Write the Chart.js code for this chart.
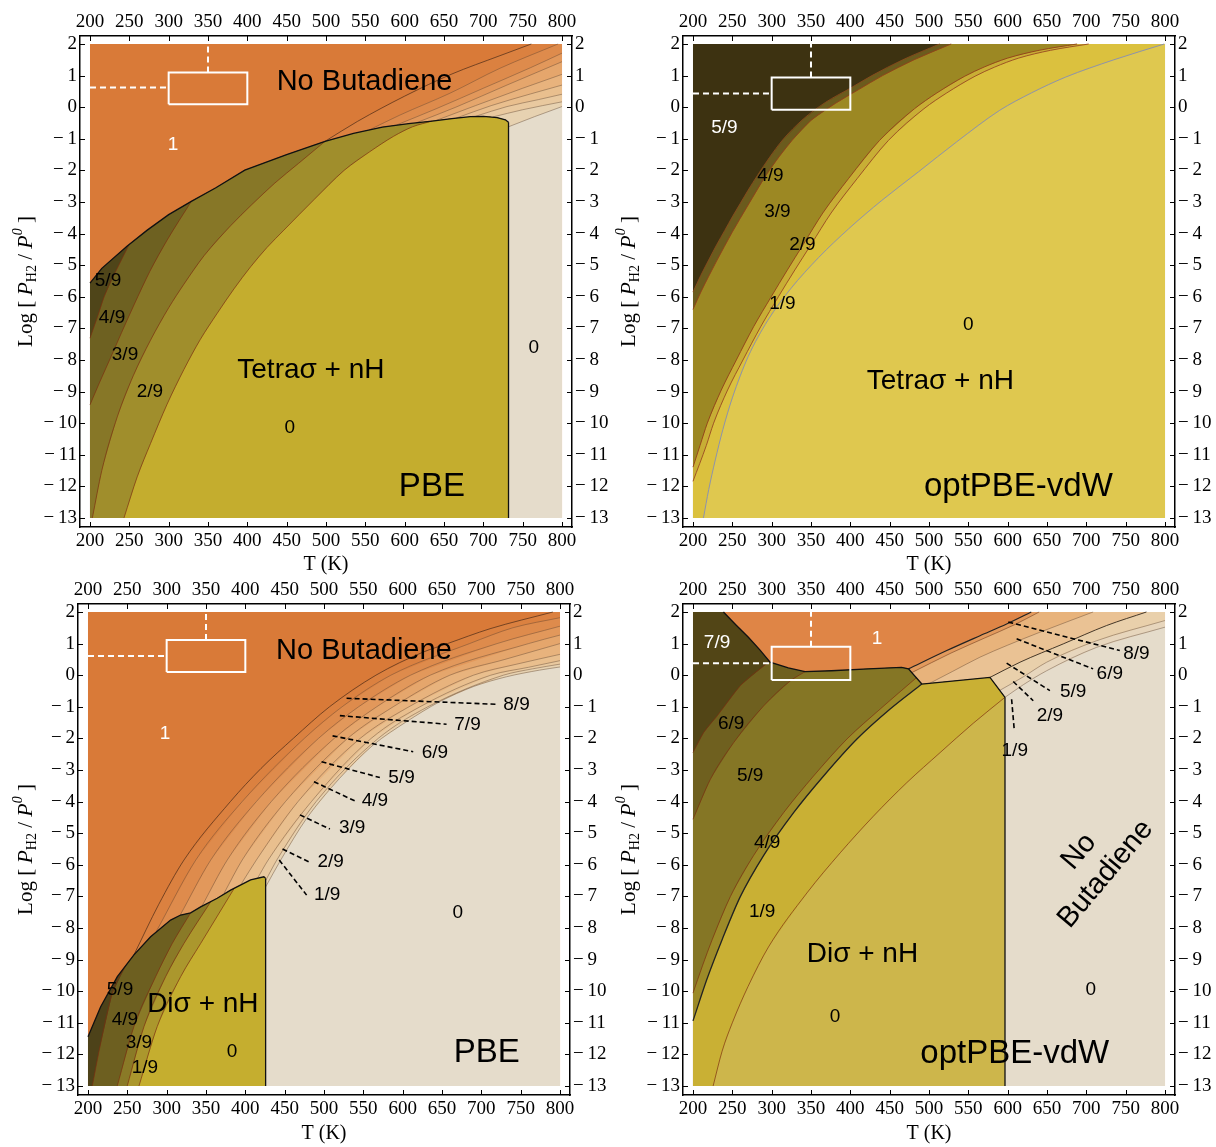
<!DOCTYPE html>
<html>
<head>
<meta charset="utf-8">
<script src="https://cdn.jsdelivr.net/npm/chart.js@4.4.1/dist/chart.umd.min.js"></script>
<style>
  body { margin: 0; background: #fff; width: 1216px; height: 1147px; position: relative; overflow: hidden; }
  canvas { position: absolute; }
</style>
</head>
<body>
<canvas id="c1" width="608" height="575" style="left:0;top:0"></canvas>
<canvas id="c2" width="608" height="575" style="left:608px;top:0"></canvas>
<canvas id="c3" width="608" height="572" style="left:0;top:575px"></canvas>
<canvas id="c4" width="608" height="572" style="left:608px;top:575px"></canvas>
<script>
// plotted domain: T (K) and log10(P_H2/P0)
const tMin = 200, tMax = 800, pMin = -13, pMax = 2;
const tStep = 50, pStep = 1;
// frame range (the white margin inside the frame)
const tLo = 187.3, tHi = 812.7, pLo = -13.285, pHi = 2.253;

// ---------- PBE, Tetra-sigma (top left) ----------
const p1Bound = [[200,-5.57],[215,-5.1],[247,-4.4],[272.8,-3.89],[300,-3.4],[328.8,-2.98],[360,-2.55],[396.8,-1.99],[450,-1.5],[498.8,-1.08],[535,-0.83],[571.7,-0.63],[605,-0.52],[634.9,-0.44],[660,-0.36],[683.5,-0.3],[700,-0.29],[717.5,-0.33],[728,-0.4],[732,-0.48]];
const p1Edge = 732;
const p1Olive = [
  [[200,-7.31],[210,-6.6],[218,-6.0],[232.6,-5.2],[250,-4.34]],
  [[200,-9.42],[212,-8.72],[226.3,-7.92],[240,-7.14],[255.9,-6.26],[276,-5.2],[298.2,-4.2],[328.8,-2.98]],
  [[203,-13],[215,-11.5],[234.7,-9.8],[255,-8.5],[277,-7.37],[300,-6.35],[319.4,-5.6],[345,-4.7],[378.8,-3.75],[405,-3.1],[435,-2.4],[465,-1.78],[498.8,-1.08]],
  [[243.2,-13],[260,-11.7],[277,-10.64],[298,-9.4],[319.4,-8.3],[340,-7.36],[361.8,-6.52],[383,-5.75],[404.2,-5.05],[425,-4.44],[446.5,-3.89],[485,-2.92],[523,-2.0],[555,-1.42],[586,-0.92],[610,-0.62],[634.9,-0.44]]
];
const p1Cont = [
  [[498.8,-1.08],[540,-0.45],[600,0.35],[660,1.05],[720,1.62],[761,2]],
  [[555,-0.72],[593.9,-0.25],[657.4,0.44],[721,1.23],[795,2]],
  [[590,-0.56],[640,-0.05],[700,0.6],[760,1.25],[800,1.71]],
  [[615,-0.49],[665,0.0],[730,0.7],[800,1.44]],
  [[640,-0.42],[690,0.05],[750,0.6],[800,1.04]],
  [[665,-0.35],[710,0.05],[760,0.42],[800,0.70]],
  [[690,-0.29],[730,0.02],[770,0.24],[800,0.41]],
  [[712,-0.31],[750,-0.08],[800,0.17]],
  [[732,-0.62],[765,-0.3],[800,0.02]]
];
const p1Box = [0.09, 1.1], p1Dash = 0.62;
const p1Text = [
  ['No Butadiene', 549, 0.8, 29], ['1', 305.5, -1.2, 19, '#fff'],
  ['5/9', 222.9, -5.5, 19], ['4/9', 228, -6.67, 19], ['3/9', 244.5, -7.84, 19], ['2/9', 276.2, -9.01, 19],
  ['Tetraσ + nH', 480.8, -8.32, 28], ['0', 454, -10.15, 19], ['0', 764.2, -7.62, 19], ['PBE', 634.6, -12.02, 33]
];

// ---------- optPBE-vdW, Tetra-sigma (top right) ----------
const p2Cont = [
  [[200,-5.85],[210,-5.32],[220.7,-4.8],[230,-4.36],[240.4,-3.9],[250,-3.47],[260,-3.05],[270,-2.63],[282.2,-2.15],[297,-1.6],[314.2,-1.03],[340,-0.38],[368.3,0.15],[400,0.6],[427.4,1.0],[466.7,1.5],[513.5,2]],
  [[200,-6.4],[210,-5.85],[220,-5.35],[230,-4.87],[250,-3.95],[270,-3.1],[293,-2.15],[310,-1.55],[326,-1.05],[350,-0.42],[381,0.12],[410,0.55],[441,1.0],[481,1.5],[528.2,2]],
  [[200,-11.39],[209,-10.7],[218.2,-10.0],[236,-8.95],[255.1,-8.0],[277,-6.95],[299.4,-6.0],[320,-5.15],[340,-4.35],[365,-3.35],[398,-2.25],[437.2,-1.05],[481.5,-0.05],[510,0.45],[545.5,0.98],[570,1.27],[599.6,1.55],[640,1.8],[688.2,2]],
  [[200,-11.84],[217,-10.7],[226.2,-10.0],[244,-8.95],[263.5,-8.0],[286,-6.95],[308.5,-6.0],[329.5,-5.15],[350,-4.35],[375.5,-3.35],[409,-2.25],[448.5,-1.05],[493.5,-0.05],[522.5,0.45],[558.5,0.98],[583.5,1.27],[613.5,1.55],[654.5,1.8],[703,2]],
  [[213.3,-13],[220,-12.1],[228,-11.2],[238,-10.2],[250,-9.2],[270,-7.9],[295,-6.75],[324,-5.75],[360,-4.75],[397.8,-3.85],[440,-2.95],[486.4,-2.05],[535,-1.1],[589.8,-0.1],[630,0.45],[673.4,0.95],[735,1.5],[799,2]]
];
const p2Box = [-0.08, 0.94], p2Dash = 0.43;
const p2Text = [
  ['5/9', 240, -0.66, 19, '#fff'], ['4/9', 298.5, -2.18, 19], ['3/9', 307.4, -3.32, 19], ['2/9', 339.1, -4.36, 19],
  ['1/9', 313.7, -6.23, 19], ['0', 550, -6.89, 19], ['Tetraσ + nH', 514.5, -8.66, 28], ['optPBE-vdW', 613.6, -12.02, 33]
];

// ---------- PBE, Di-sigma (bottom left) ----------
const p3Bound = [[200,-11.44],[216.1,-10.49],[237.3,-9.54],[258.4,-8.85],[279.6,-8.28],[305,-7.75],[317.8,-7.59],[330.5,-7.52],[343.2,-7.33],[364.3,-7.06],[381.3,-6.8],[406.7,-6.48],[423.6,-6.38],[425.8,-6.43]];
const p3Edge = 425.8;
const p3Olive = [
  [[205.5,-13],[214,-11.9],[230.9,-10.07],[248,-9.19]],
  [[237.2,-13],[258.4,-11.12],[286,-9.54],[307.1,-8.49],[330.5,-7.52]],
  [[249.9,-13],[271.2,-11.12],[298.7,-9.54],[322,-8.49],[356,-7.17]],
  [[264.8,-13],[288,-11.12],[317.8,-9.54],[343.2,-8.49],[386,-6.74]]
];
const p3Cont = [
  [[258.4,-8.85],[290,-7.25],[322,-5.85],[381,-4.0],[420,-2.95],[461,-2.0],[507,-1.0],[566,0],[626,0.73],[657,1.0],[711,1.47],[791,2]],
  [[287,-8.1],[337,-5.85],[396,-4],[475,-2],[523,-1],[585,0],[685,1],[740,1.5],[800,1.82]],
  [[317,-7.6],[356,-5.85],[414,-4],[493,-2],[544,-1],[610,0],[720,1],[800,1.55]],
  [[345,-7.3],[377,-5.85],[433,-4],[513,-2],[567,-1],[635,0],[760,1],[800,1.27]],
  [[373,-6.9],[396,-5.85],[451,-4],[530,-2],[588,-1],[660,0],[730,0.5],[800,1.0]],
  [[395,-6.6],[414,-5.85],[467,-4],[546,-2],[608,-1],[690,0],[745,0.35],[800,0.66]],
  [[415,-6.45],[429,-5.85],[484,-4],[560,-2],[622,-1],[712,0],[760,0.25],[800,0.46]],
  [[425.8,-6.5],[440,-5.85],[490,-4],[569,-2],[632,-1],[728,0],[765,0.2],[800,0.35]],
  [[425.8,-6.7],[445,-5.85],[478,-4.53],[520,-3.26],[562.5,-2.21],[605,-1.47],[647,-0.84],[690,-0.36],[732,-0.05],[774,0.16],[800,0.26]]
];
const p3Box = [0.1, 1.11], p3Dash = 0.61;
const p3Text = [
  ['No Butadiene', 550.7, 0.77, 29], ['1', 297.8, -1.86, 19, '#fff'], ['0', 670, -7.53, 19],
  ['Diσ + nH', 346, -10.4, 28], ['5/9', 240.7, -9.96, 19], ['4/9', 247, -10.91, 19], ['3/9', 264.8, -11.64, 19],
  ['1/9', 272.4, -12.43, 19], ['0', 383, -11.92, 19], ['PBE', 707, -11.95, 33]
];
const p3Leaders = [
  ['8/9', 528.7, -0.73, 718.4, -0.92, 744.7, -0.92], ['7/9', 520.2, -1.28, 655.8, -1.55, 682.4, -1.56],
  ['6/9', 510.9, -1.92, 613.4, -2.42, 640.9, -2.44], ['5/9', 496.9, -2.74, 571, -3.24, 598.6, -3.24],
  ['4/9', 487.2, -3.37, 539.3, -3.98, 564.7, -3.98], ['3/9', 469.4, -4.42, 507.5, -4.87, 535.8, -4.84],
  ['2/9', 447.3, -5.5, 482, -5.92, 508.4, -5.9], ['1/9', 443.1, -5.85, 477.9, -6.96, 504.1, -6.95]
];

// ---------- optPBE-vdW, Di-sigma (bottom right) ----------
const p4Bound = [[238.7,2],[255,1.58],[270.4,1.2],[285,0.8],[298,0.41],[321.2,0.23],[342.4,0.11],[376.2,0.14],[422.7,0.2],[465,0.25],[473.9,0.2],[490.9,-0.28],[577.5,-0.07],[596.6,-0.7]];
const p4Edge = 596.6;
const p4Olive = [
  [[200,-2.45],[213.7,-1.81],[230.7,-1.29],[260.3,-0.33],[297,0.43]],
  [[200,-4.56],[222.2,-3.29],[251.8,-2.13],[289.9,-0.97],[323.7,-0.18],[342.4,0.11]],
  [[200,-10.06],[212,-9.2],[224.4,-8.37],[247.6,-7.0],[277.2,-5.7],[315.2,-4.35],[353.3,-3.19],[395.7,-2.02],[438,-1.07],[484,-0.08]],
  [[200,-10.94],[218,-9.6],[237,-8.37],[260.3,-7.0],[289.9,-5.7],[327.9,-4.35],[366,-3.19],[408.4,-2.02],[450.6,-1.07],[490.9,-0.28]],
  [[225.6,-13],[237,-11.9],[250,-11.0],[270,-9.85],[296,-8.6],[344.9,-6.89],[387.2,-5.62],[429.4,-4.46],[471.8,-3.4],[514.1,-2.45],[556.3,-1.52],[596.6,-0.7]]
];
const p4Cont = [
  [[473.9,0.2],[522.6,0.78],[564.8,1.25],[598.7,1.62],[630,2]],
  [[478,0.08],[528,0.7],[571,1.18],[609,1.6],[640,2]],
  [[501.4,-0.25],[530,0.12],[564.8,0.57],[600,0.95],[641,1.36],[708.6,2]],
  [[577.5,-0.07],[615.6,0.41],[670.6,0.99],[725.6,1.57],[776.4,2]],
  [[590,-0.48],[620,-0.05],[649.5,0.41],[713,1.09],[800,1.73]],
  [[596.6,-0.7],[620,-0.3],[649.5,0.14],[713,0.88],[800,1.52]]
];
const p4Box = [-0.15, 0.9], p4Dash = 0.38;
const p4Text = [
  ['7/9', 230.6, 1.03, 19, '#fff'], ['1', 434, 1.14, 19, '#fff'], ['6/9', 248.5, -1.55, 19], ['5/9', 272.6, -3.17, 19],
  ['4/9', 294.2, -5.3, 19], ['1/9', 287.9, -7.49, 19], ['Diσ + nH', 415.4, -8.82, 28], ['0', 380.7, -10.8, 19],
  ['0', 705.6, -9.95, 19], ['No\nButadiene', 707.6, -5.94, 29, '#000', -50], ['optPBE-vdW', 609, -12.0, 33]
];
const p4Leaders = [
  ['8/9', 600.8, 1.68, 742.5, 0.78, 763.7, 0.69], ['6/9', 611.4, 1.15, 708.6, 0.2, 729.8, 0.06],
  ['5/9', 598.7, 0.38, 653.7, -0.49, 683.2, -0.54], ['2/9', 607.1, -0.2, 632.5, -0.81, 653.7, -1.29],
  ['1/9', 605, -0.76, 608.5, -1.77, 609, -2.4]
];

// white reference box and dashed guides (same T span in every panel)
const boxT = [300, 400], dashT = 350;

// ---------- colours ----------
const pbeOrange = '#d97a38';
const pbeBands = ['#db8140', '#de8b4c', '#e2985b', '#e5a66c', '#e8b37d', '#e9bf8e', '#e9c99f', '#e7d2b1', '#e5dccb'];
const p1OliveFill = ['#4f4519', '#6e6121', '#877727', '#a08e2c', '#c4ad2e'];
const p2Fill = ['#3d3211', '#6b5b1d', '#9c8823', '#c8ae35', '#dbc13e', '#dfc84f'];
const p3OliveFill = ['#4d4219', '#6d5f20', '#8a7a27', '#ab972d', '#c5ae2f'];
const p4Orange = '#df8546';
const p4Bands = ['#e29a5d', '#e8b37b', '#eac294', '#e9d0ab', '#e7d6bd', '#e5dccb'];
const p4OliveFill = ['#524516', '#6f601f', '#857625', '#9c8a28', '#c9b034', '#cdb64b'];

// ---------- helpers ----------
const pts = c => c.map(([x, y]) => ({x, y}));
const rect = [[tMin, pMin], [tMax, pMin], [tMax, pMax], [tMin, pMax]];

function area(poly, color) {
  return {data: pts(poly), fill: 'shape', backgroundColor: color, borderColor: 'rgba(0,0,0,0)', borderWidth: 0, pointRadius: 0};
}
function stroke(c, color, width, dash, straight) {
  return {data: pts(c), fill: false, borderColor: color, borderWidth: width, borderDash: dash || [], pointRadius: 0,
    cubicInterpolationMode: straight ? 'default' : 'monotone'};
}
// region to the lower right of a curve that runs to the top or right edge
function below(c) {
  const poly = c.slice();
  if (c[c.length - 1][1] >= pMax) poly.push([tMax, pMax]);
  poly.push([tMax, pMin], [c[0][0], pMin]);
  return poly;
}
// region to the lower right of a curve that ends on the phase boundary
function inside(c, bound, edge) {
  const end = c[c.length - 1][0];
  return c.concat(bound.filter(q => q[0] > end), [[edge, pMin], [c[0][0], pMin]]);
}

function buildPanel(p) {
  const L = [area(rect, p.base)];
  p.cont.forEach((c, i) => L.push(area(below(c), p.contFill[i])));
  if (p.bound) {
    const reg = (p.bound[0][0] > tMin ? [[tMin, pMax]] : []).concat(p.bound, [[p.edge, pMin], [tMin, pMin]]);
    L.push(area(reg, p.regionFill));
    p.olive.forEach((c, i) => L.push(area(inside(c, p.bound, p.edge), p.oliveFill[i])));
  }
  p.cont.forEach((c, i) => L.push(stroke(c, p.contLine[i], p.contWidth[i])));
  if (p.bound) {
    p.olive.forEach((c, i) => L.push(stroke(c, p.oliveLine[i], p.oliveWidth[i])));
    L.push(stroke(p.bound, '#111', 1.3, null, true));
    L.push(stroke([[p.edge, p.bound[p.bound.length - 1][1]], [p.edge, pMin]], '#111', 1.3, null, true));
  }
  (p.leaders || []).forEach(l => L.push(stroke([[l[1], l[2]], [l[3], l[4]]], '#000', 1.6, [5, 3], true)));
  L.push(stroke([[boxT[0], p.box[0]], [boxT[1], p.box[0]], [boxT[1], p.box[1]], [boxT[0], p.box[1]], [boxT[0], p.box[0]]], '#fff', 2, null, true));
  L.push(stroke([[tMin, p.dash], [boxT[0], p.dash]], '#fff', 2, [6, 4], true));
  L.push(stroke([[dashT, p.box[1]], [dashT, pMax]], '#fff', 2, [6, 4], true));
  return L;
}

function drawYTitle(ctx, cx, cy) {
  const parts = [['Log [ ', 21, '', 0], ['P', 22, 'italic ', 0], ['H2', 14, '', 4], [' / ', 21, '', 0], ['P', 22, 'italic ', 0], ['0', 14, 'italic ', -10], [' ]', 21, '', 0]];
  const fnt = p => p[2] + p[1] + 'px "Liberation Serif", serif';
  ctx.save();
  ctx.translate(cx, cy);
  ctx.rotate(-Math.PI / 2);
  ctx.fillStyle = '#000';
  ctx.textAlign = 'left';
  ctx.textBaseline = 'alphabetic';
  let total = 0;
  parts.forEach(p => { ctx.font = fnt(p); total += ctx.measureText(p[0]).width; });
  let xx = -total / 2;
  parts.forEach(p => { ctx.font = fnt(p); ctx.fillText(p[0], xx, 7 + p[3]); xx += ctx.measureText(p[0]).width; });
  ctx.restore();
}

function decor(texts, leaders, titleX) {
  return {
    id: 'decor',
    afterDatasetsDraw(chart) {
      const {ctx, scales: {x, y}} = chart;
      ctx.save();
      ctx.textAlign = 'center';
      ctx.textBaseline = 'middle';
      const items = texts.concat((leaders || []).map(l => [l[0], l[5], l[6], 19]));
      items.forEach(([s, t, p, size, color, rot]) => {
        ctx.font = size + 'px "Liberation Sans", Arial, sans-serif';
        ctx.fillStyle = color || '#000';
        const lines = s.split('\n');
        ctx.save();
        ctx.translate(x.getPixelForValue(t), y.getPixelForValue(p));
        ctx.rotate((rot || 0) * Math.PI / 180);
        lines.forEach((ln, i) => ctx.fillText(ln, 0, (i - (lines.length - 1) / 2) * size * 1.2));
        ctx.restore();
      });
      ctx.restore();
    },
    afterDraw(chart) {
      const {ctx, chartArea: a, scales} = chart;
      ctx.save();
      ctx.strokeStyle = '#000';
      ctx.lineWidth = 1;
      ctx.beginPath();
      scales.x.ticks.forEach(t => {
        const px = Math.round(scales.x.getPixelForValue(t.value)) + 0.5;
        ctx.moveTo(px, a.bottom); ctx.lineTo(px, a.bottom - 5);
        ctx.moveTo(px, a.top); ctx.lineTo(px, a.top + 5);
      });
      scales.y.ticks.forEach(t => {
        const py = Math.round(scales.y.getPixelForValue(t.value)) + 0.5;
        ctx.moveTo(a.left, py); ctx.lineTo(a.left + 5, py);
        ctx.moveTo(a.right, py); ctx.lineTo(a.right - 5, py);
      });
      ctx.stroke();
      ctx.restore();
      drawYTitle(ctx, titleX, (a.top + a.bottom) / 2);
    }
  };
}

function axes(g) {
  const font = {family: '"Liberation Serif", serif', size: 19};
  const fmt = v => (v < 0 ? '\u2212\u2009' + (-v) : '' + v);
  const mk = (pos, lo, hi, step, fit) => ({
    type: 'linear', position: pos, min: lo, max: hi,
    grid: {display: false, drawTicks: false},
    border: {display: true, color: '#000', width: 1.5},
    ticks: {stepSize: step, includeBounds: false, autoSkip: false, maxRotation: 0, minRotation: 0, font, color: '#000', padding: 3, callback: fmt},
    afterFit: fit
  });
  const s = {
    x: mk('bottom', tLo, tHi, tStep, sc => { sc.height = g.bottom; }),
    x2: mk('top', tLo, tHi, tStep, sc => { sc.height = g.top; }),
    y: mk('left', pLo, pHi, pStep, sc => { sc.width = g.left; }),
    y2: mk('right', pLo, pHi, pStep, sc => { sc.width = g.right; })
  };
  s.x.title = {display: true, text: 'T (K)', font: {family: '"Liberation Serif", serif', size: 20}, color: '#000', padding: {top: 0, bottom: g.titlePad}};
  return s;
}

function makeChart(id, g, layers, texts, leaders) {
  new Chart(document.getElementById(id), {
    type: 'line',
    data: {datasets: layers.slice().reverse()},
    options: {
      responsive: false, animation: false, events: [],
      layout: {padding: 0},
      plugins: {legend: {display: false}, tooltip: {enabled: false}},
      scales: axes(g)
    },
    plugins: [decor(texts, leaders, g.titleX)]
  });
}

const thinCont = 'rgba(95,70,50,0.55)';
const redLine = 'rgba(125,45,15,0.85)';

makeChart('c1', {left: 80, right: 36, top: 36, bottom: 48, titleX: 25, titlePad: -2}, buildPanel({
  base: pbeOrange, cont: p1Cont, contFill: pbeBands,
  contLine: ['rgba(60,35,20,0.8)'].concat(Array(8).fill(thinCont)), contWidth: Array(9).fill(0.8),
  bound: p1Bound, edge: p1Edge, regionFill: p1OliveFill[0], olive: p1Olive, oliveFill: p1OliveFill.slice(1),
  oliveLine: Array(4).fill(redLine), oliveWidth: Array(4).fill(0.8),
  box: p1Box, dash: p1Dash
}), p1Text);

makeChart('c2', {left: 75, right: 41, top: 36, bottom: 48, titleX: 20, titlePad: -2}, buildPanel({
  base: p2Fill[0], cont: p2Cont, contFill: p2Fill.slice(1),
  contLine: ['#8a4a1c', '#93401a', '#93401a', '#9a4a22', '#8d93ad'], contWidth: [0.9, 0.9, 0.9, 0.9, 1],
  box: p2Box, dash: p2Dash
}), p2Text);

makeChart('c3', {left: 78, right: 38, top: 29, bottom: 52, titleX: 25, titlePad: 1}, buildPanel({
  base: pbeOrange, cont: p3Cont, contFill: pbeBands,
  contLine: ['rgba(60,35,20,0.8)'].concat(Array(8).fill(thinCont)), contWidth: Array(9).fill(0.8),
  bound: p3Bound, edge: p3Edge, regionFill: p3OliveFill[0], olive: p3Olive, oliveFill: p3OliveFill.slice(1),
  oliveLine: Array(4).fill(redLine), oliveWidth: Array(4).fill(0.8),
  leaders: p3Leaders, box: p3Box, dash: p3Dash
}), p3Text, p3Leaders);

makeChart('c4', {left: 75, right: 41, top: 29, bottom: 52, titleX: 20, titlePad: 1}, buildPanel({
  base: p4Orange, cont: p4Cont, contFill: p4Bands,
  contLine: ['#222', 'rgba(110,60,30,0.7)', thinCont, 'rgba(40,30,20,0.85)', thinCont, thinCont], contWidth: [1.2, 0.8, 0.8, 1, 0.8, 0.8],
  bound: p4Bound, edge: p4Edge, regionFill: p4OliveFill[0], olive: p4Olive, oliveFill: p4OliveFill.slice(1),
  oliveLine: [redLine, redLine, redLine, '#222', redLine], oliveWidth: [0.8, 0.8, 0.8, 1.3, 0.8],
  leaders: p4Leaders, box: p4Box, dash: p4Dash
}), p4Text, p4Leaders);
</script>
</body>
</html>
